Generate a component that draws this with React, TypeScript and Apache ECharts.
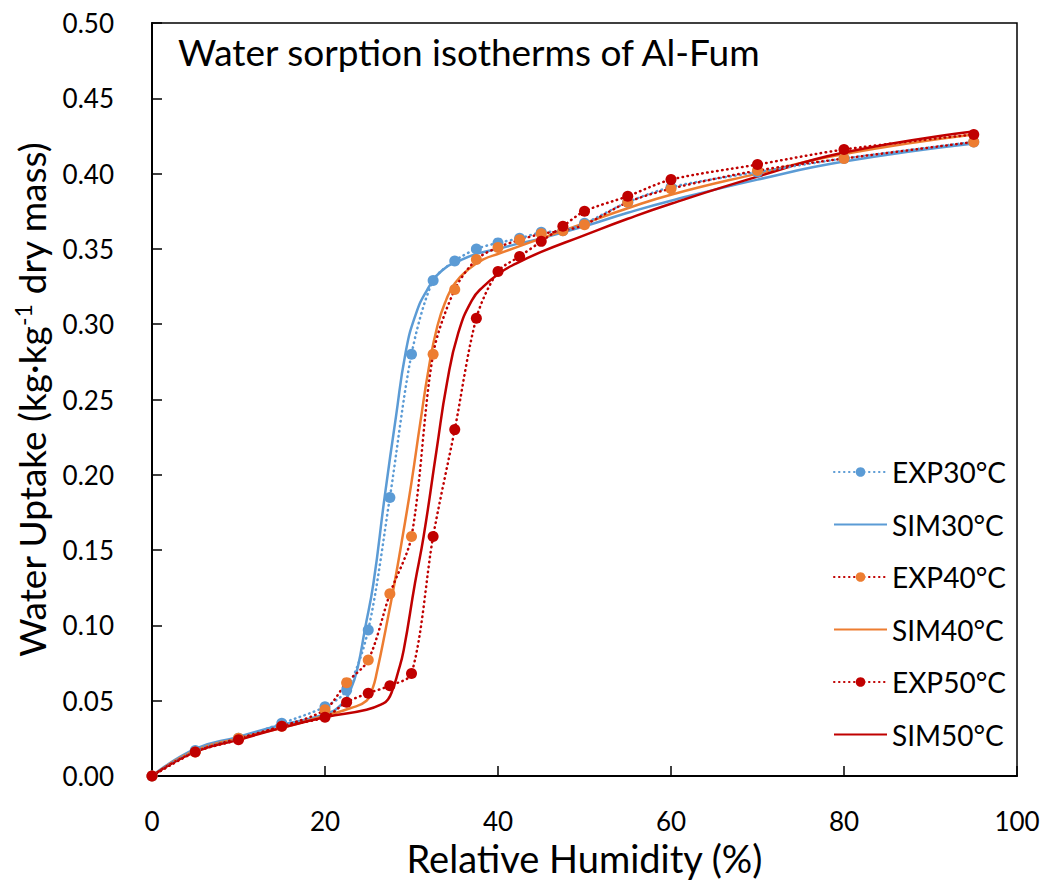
import React, { useEffect, useRef } from "react";
import * as echarts from "echarts";

// Relative humidity (%) of experimental points
const expRH = [0, 5, 10, 15, 20, 22.5, 25, 27.5, 30, 32.5, 35, 37.5, 40, 42.5, 45, 47.5, 50, 55, 60, 70, 80, 95];
const exp30 = [0, 0.017, 0.025, 0.035, 0.046, 0.057, 0.097, 0.185, 0.28, 0.329, 0.342, 0.35, 0.354, 0.357, 0.361, 0.362, 0.367, 0.381, 0.391, 0.401, 0.41, 0.421];
const exp40 = [0, 0.016, 0.025, 0.033, 0.044, 0.062, 0.077, 0.121, 0.159, 0.28, 0.323, 0.343, 0.351, 0.356, 0.36, 0.362, 0.366, 0.381, 0.39, 0.402, 0.41, 0.421];
const exp50 = [0, 0.016, 0.024, 0.033, 0.039, 0.049, 0.055, 0.06, 0.068, 0.159, 0.23, 0.304, 0.335, 0.345, 0.355, 0.365, 0.375, 0.385, 0.396, 0.406, 0.416, 0.426];

// Simulated isotherms
const sim30RH = [0, 5, 10, 15, 20, 22, 23, 23.8, 24.6, 25.6, 26.9, 28.2, 29.3, 30.4, 31.8, 33.6, 35.7, 37.7, 40, 42, 45, 50, 55, 60, 70, 80, 95];
const sim30 = [0, 0.018, 0.026, 0.034, 0.041, 0.048, 0.058, 0.0726, 0.097, 0.128, 0.1855, 0.2385, 0.2806, 0.305, 0.3227, 0.336, 0.3426, 0.347, 0.35, 0.353, 0.357, 0.365, 0.374, 0.382, 0.396, 0.408, 0.42];
const sim40RH = [0, 5, 10, 15, 20, 22.9, 24.8, 25.5, 26, 27, 28, 29, 30, 31, 32, 33, 34, 35, 36.5, 38.3, 40.2, 45, 50, 55, 60, 70, 80, 95];
const sim40 = [0, 0.017, 0.025, 0.032, 0.04, 0.045, 0.05, 0.058, 0.069, 0.097, 0.127, 0.16, 0.195, 0.234, 0.271, 0.299, 0.316, 0.327, 0.336, 0.343, 0.347, 0.357, 0.367, 0.377, 0.386, 0.4, 0.413, 0.426];
const sim50RH = [0, 5, 10, 15, 20, 24.8, 26.7, 27.3, 27.8, 28.4, 29.1, 30.4, 31.4, 32.9, 34.1, 35.4, 37, 38.3, 40.2, 42, 45, 49.5, 55, 60, 70, 80, 95];
const sim50 = [0, 0.016, 0.024, 0.032, 0.039, 0.044, 0.048, 0.051, 0.057, 0.068, 0.0837, 0.128, 0.159, 0.2165, 0.261, 0.294, 0.316, 0.325, 0.334, 0.34, 0.348, 0.358, 0.37, 0.38, 0.398, 0.414, 0.428];

const names = ["EXP30°C", "SIM30°C", "EXP40°C", "SIM40°C", "EXP50°C", "SIM50°C"];

const BLUE = "#5B9BD5";
const ORANGE = "#ED7D31";
const RED = "#C00000";
const FONT = "Lato";

const pairs = (xs: number[], ys: number[]) => xs.map((x, i) => [x, ys[i]]);

export default function App() {
  const ref = useRef<HTMLDivElement>(null);
  useEffect(() => {
    if (!ref.current) return;
    const chart = echarts.init(ref.current, undefined, { renderer: "svg" });
    const expSeries = (name: string, data: number[][], markerColor: string, lineColor: string) => ({
      name,
      type: "line",
      data,
      symbol: "circle",
      symbolSize: 11,
      itemStyle: { color: markerColor },
      lineStyle: { color: lineColor, width: 2.5, type: [0.5, 4.5], cap: "round" },
      smooth: 0.3,
      z: 3,
    });
    const simSeries = (name: string, data: number[][], color: string) => ({
      name,
      type: "line",
      data,
      symbol: "none",
      itemStyle: { color },
      lineStyle: { color, width: 2.5, type: "solid" },
      smooth: 0.5,
      z: 2,
    });
    chart.setOption({
      animation: false,
      textStyle: { fontFamily: FONT },
      title: {
        text: "Water sorption isotherms of Al-Fum",
        left: 178,
        top: 33,
        padding: 0,
        textStyle: { fontFamily: FONT, fontSize: 37, fontWeight: "normal", color: "#000" },
      },
      grid: {
        left: 152,
        right: 29,
        top: 23,
        bottom: 120,
        show: true,
        borderColor: "#000",
        borderWidth: 1.5,
        backgroundColor: "transparent",
      },
      legend: {
        orient: "vertical",
        left: 828,
        top: 452,
        itemWidth: 53,
        itemHeight: 12,
        itemGap: 22.5,
        data: names.map((n) =>
          n.startsWith("SIM") ? { name: n, itemStyle: { opacity: 0 } } : { name: n }
        ),
        textStyle: { fontFamily: FONT, fontSize: 28, color: "#000", lineHeight: 30 },
      },
      xAxis: {
        type: "value",
        min: 0,
        max: 100,
        interval: 20,
        name: "Relative Humidity (%)",
        nameLocation: "middle",
        nameGap: 62,
        nameTextStyle: { fontFamily: FONT, fontSize: 38, color: "#000" },
        axisLine: { show: true, onZero: false, lineStyle: { color: "#000", width: 2 } },
        axisTick: { show: true, inside: true, length: 10, lineStyle: { color: "#000", width: 1.5 } },
        axisLabel: { margin: 32, fontFamily: FONT, fontSize: 26, color: "#000" },
        splitLine: { show: false },
      },
      yAxis: {
        type: "value",
        min: 0,
        max: 0.5,
        interval: 0.05,
        name: "Water Uptake (kg·kg{sup|-1} dry mass)",
        nameLocation: "middle",
        nameGap: 100,
        nameTextStyle: {
          fontFamily: FONT,
          fontSize: 37,
          color: "#000",
          rich: {
            sup: { fontFamily: FONT, fontSize: 23, color: "#000", padding: [0, 0, 18, 0] },
          },
        },
        axisLine: { show: true, onZero: false, lineStyle: { color: "#000", width: 2 } },
        axisTick: { show: true, inside: true, length: 10, lineStyle: { color: "#000", width: 1.5 } },
        axisLabel: {
          margin: 38,
          fontFamily: FONT,
          fontSize: 26,
          color: "#000",
          formatter: (v: number) => v.toFixed(2),
        },
        splitLine: { show: false },
      },
      series: [
        expSeries(names[0], pairs(expRH, exp30), BLUE, BLUE),
        simSeries(names[1], pairs(sim30RH, sim30), BLUE),
        expSeries(names[2], pairs(expRH, exp40), ORANGE, RED),
        simSeries(names[3], pairs(sim40RH, sim40), ORANGE),
        expSeries(names[4], pairs(expRH, exp50), RED, RED),
        simSeries(names[5], pairs(sim50RH, sim50), RED),
      ],
    });
    return () => chart.dispose();
  }, []);
  return (
    <div
      ref={ref}
      style={{ position: "fixed", left: 0, top: 0, width: 1046, height: 896, background: "#fff" }}
    />
  );
}
